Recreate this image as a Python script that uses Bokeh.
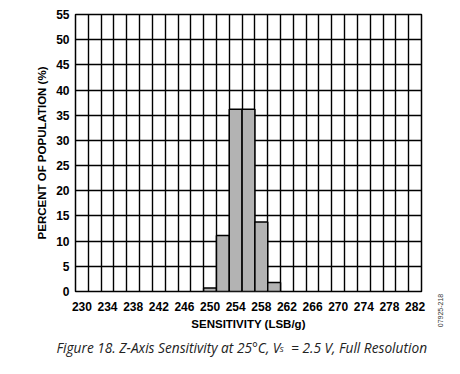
import math
from bokeh.plotting import figure
from bokeh.models import FixedTicker, Label, Range1d
from bokeh.embed import file_html
from bokeh.resources import INLINE

# Data
bin_centers = [250, 252, 254, 256, 258, 260]
percent = [0.7, 11.1, 36.2, 36.2, 13.8, 1.8]
x_tick_labels = list(range(230, 283, 4))
y_ticks = list(range(0, 56, 5))
grid_x = list(range(229, 284, 2))

p = figure(width=460, height=374, output_backend="svg", toolbar_location=None,
           x_range=Range1d(229, 283), y_range=Range1d(0, 55),
           min_border_left=75, min_border_right=39, min_border_top=14, min_border_bottom=83)
p.background_fill_color = "white"
p.border_fill_color = "white"
p.outline_line_color = "black"
p.outline_line_width = 1.5

p.vbar(x=bin_centers, top=percent, width=2, fill_color="#b3b3b3",
       line_color="black", line_width=1.5)

p.xaxis.ticker = FixedTicker(ticks=x_tick_labels)
p.yaxis.ticker = FixedTicker(ticks=y_ticks)
p.xgrid.ticker = FixedTicker(ticks=grid_x)
p.ygrid.ticker = FixedTicker(ticks=y_ticks)
for g in (p.xgrid, p.ygrid):
    g.grid_line_color = "black"
    g.grid_line_width = 1.4
    g.grid_line_alpha = 1.0

for ax in (p.xaxis, p.yaxis):
    ax.axis_line_color = None
    ax.major_tick_line_color = None
    ax.minor_tick_line_color = None
    ax.major_tick_in = 0
    ax.major_tick_out = 0
    ax.minor_tick_in = 0
    ax.minor_tick_out = 0
    ax.major_label_text_font = "Liberation Sans"
    ax.major_label_text_font_style = "bold"
    ax.major_label_text_font_size = "12px"
    ax.major_label_text_color = "black"
    ax.axis_label_text_font = "Liberation Sans"
    ax.axis_label_text_font_style = "bold"
    ax.axis_label_text_font_size = "11.5px"
    ax.axis_label_text_color = "black"

p.xaxis.major_label_standoff = 10
p.yaxis.major_label_standoff = 6
p.xaxis.axis_label = "SENSITIVITY (LSB/g)"
p.yaxis.axis_label = "PERCENT OF POPULATION (%)"
p.xaxis.axis_label_standoff = 4
p.yaxis.axis_label_standoff = 5

cap_font = "Open Sans"
p.add_layout(Label(x=-19, y=4, x_units="screen", y_units="screen",
                   text="Figure 18. Z-Axis Sensitivity at 25°C, V\u00a0\u00a0 = 2.5 V, Full Resolution",
                   text_align="left", text_baseline="middle", text_font=cap_font,
                   text_font_size="13.7px", text_font_style="italic",
                   text_color="#222222"), "below")
p.add_layout(Label(x=204, y=-334, x_units="screen", y_units="screen",
                   text="S", text_align="left", text_baseline="middle",
                   text_font=cap_font, text_font_size="8px", text_font_style="italic",
                   text_color="#222222"), "above")
p.add_layout(Label(x=19, y=-19, x_units="screen", y_units="screen",
                   text="07925-218", angle=math.pi / 2, text_align="center",
                   text_baseline="middle", text_font="Liberation Sans",
                   text_font_size="7px", text_color="#333333"), "right")

open("out.html", "w").write(file_html(p, INLINE))
